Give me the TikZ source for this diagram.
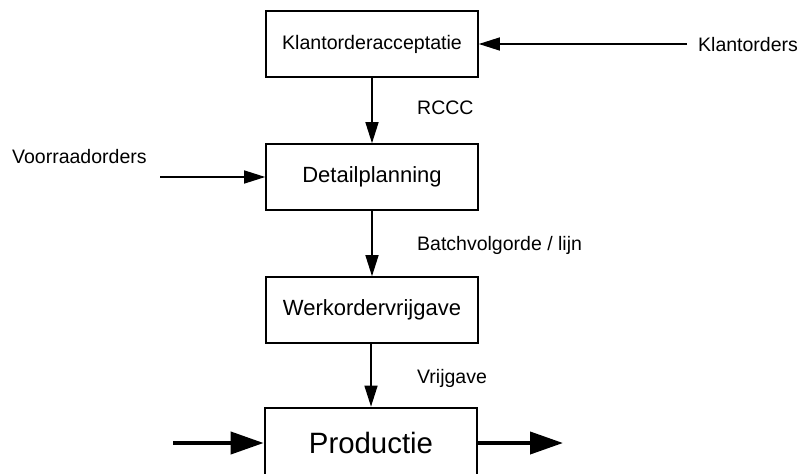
\documentclass[tikz,border=0pt]{standalone}
\usepackage{fontspec}
\setmainfont{Liberation Sans}
\usetikzlibrary{arrows.meta}
\begin{document}
\begin{tikzpicture}[x=1pt,y=-1pt,
  block/.style={draw,line width=1.6pt,minimum width=212pt,minimum height=66pt,inner sep=0pt,font=\fontsize{22}{24}\selectfont},
  mainblock/.style={draw,line width=2.7pt,minimum width=212pt,minimum height=70pt,inner sep=0pt,font=\fontsize{29.4}{32}\selectfont},
  flow/.style={line width=1.4pt,-{Triangle[length=21pt,width=13pt]}},
  bigflow/.style={line width=4pt,-{Triangle[length=33pt,width=22pt]}},
  lbl/.style={anchor=base west,inner sep=0pt,font=\fontsize{19.5}{22}\selectfont}]
\useasboundingbox (0,0) rectangle (799,473);
\clip (0,0) rectangle (799,473);

% planning chain
\node[block,font=\fontsize{19.6}{22}\selectfont] (acc) at (372,44) {Klantorderacceptatie};
\node[block] (plan) at (372,177) {Detailplanning};
\node[block] (vrij) at (372,310) {Werkordervrijgave};
\node[mainblock] (prod) at (371,443) {Productie};

% incoming orders
\coordinate (kin) at (687,44);
\coordinate (vin) at (160,177);
\node[lbl] (klant) at (698,52) {Klantorders};
\node[lbl] (voorraad) at (12,164) {Voorraadorders};
\draw[flow] (kin) -- (acc.east);
\draw[flow] (vin) -- (plan.west);

% vertical flow with labels
\draw[flow] (acc.south) -- (plan.north);
\draw[flow] (plan.south) -- (vrij.north);
\draw[flow] (vrij.south -| prod.north) -- (prod.north);
\node[lbl] (rccc) at (417,115) {RCCC};
\node[lbl] (batch) at (417,250) {Batchvolgorde / lijn};
\node[lbl] (vlbl) at (417,383) {Vrijgave};

% material flow through production
\coordinate (pin) at (173,443);
\coordinate (pout) at (563,443);
\draw[bigflow] (pin) -- (prod.west);
\draw[bigflow] (prod.east) -- (pout);
\end{tikzpicture}
\end{document}
